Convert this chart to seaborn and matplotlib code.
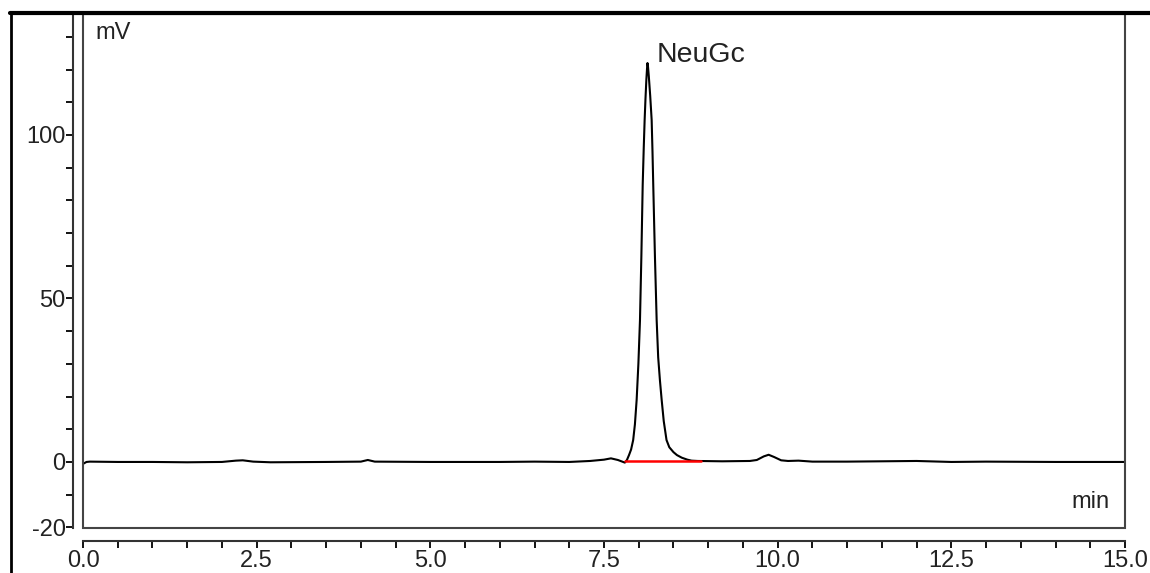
import numpy as np
import pandas as pd
import seaborn as sbn
import matplotlib
matplotlib.use('Agg')
import matplotlib.pyplot as plt
import matplotlib.lines as mline
import matplotlib.patches as mpatch
from matplotlib.ticker import MultipleLocator, FormatStrFormatter

# chromatogram trace (min, mV)
time_min = [0.0, 0.05, 0.1, 0.5, 1.0, 1.5, 2.0, 2.2, 2.3, 2.45, 2.7, 3.5,
            4.0, 4.1, 4.2, 5.0, 6.0, 6.5, 7.0, 7.3, 7.5, 7.6, 7.7, 7.8,
            7.83, 7.86, 7.89, 7.92, 7.945, 7.97, 7.995, 8.018, 8.038,
            8.057, 8.072, 8.085, 8.097, 8.11, 8.12, 8.126, 8.133, 8.145,
            8.165, 8.186, 8.198, 8.209, 8.233, 8.258, 8.28, 8.305, 8.33,
            8.36, 8.40, 8.44, 8.50, 8.55, 8.62, 8.70, 8.76, 8.85,
            9.2, 9.6, 9.7, 9.8, 9.87, 9.95, 10.05, 10.15, 10.3, 10.5,
            11.0, 12.0, 12.5, 13.0, 14.0, 15.0]
signal_mv = [-0.6, 0.0, 0.1, 0.0, 0.0, -0.1, 0.0, 0.4, 0.5, 0.1, -0.1, 0.0,
             0.1, 0.6, 0.1, 0.0, 0.0, 0.1, 0.0, 0.3, 0.7, 1.1, 0.6, -0.2,
             0.6, 2.1, 3.8, 6.7, 11.5, 19.0, 30.0, 43.4, 63.0,
             84.7, 96.0, 104.6, 111.0, 117.0, 120.5, 122.0, 121.0, 118.0,
             112.0, 104.6, 95.0, 84.7, 63.0, 43.4, 32.0, 25.0, 19.0,
             12.5, 6.7, 4.5, 3.0, 2.1, 1.3, 0.7, 0.4, 0.3,
             0.2, 0.3, 0.6, 1.7, 2.2, 1.5, 0.5, 0.3, 0.4, 0.1,
             0.1, 0.3, 0.0, 0.1, 0.0, 0.0]

# integration baseline of the peak
base_t = [7.8, 8.9]
base_mv = [0.3, 0.3]

peak_name = 'NeuGc'
peak_t = 8.126
peak_h = 122.0

x_ticks = [0.0, 2.5, 5.0, 7.5, 10.0, 12.5, 15.0]
y_ticks = [-20, 0, 50, 100]

sbn.set_style('ticks')
plt.rcParams['font.family'] = ['Liberation Sans', 'DejaVu Sans']
plt.rcParams['axes.unicode_minus'] = False

W, H = 1150, 573
fig = plt.figure(figsize=(W / 100, H / 100), dpi=100)
l, r, t, b = 83, 1125, 14, 528
ax = fig.add_axes([l / W, 1 - b / H, (r - l) / W, (b - t) / H])

df = pd.DataFrame({'t': time_min, 'mV': signal_mv})
sbn.lineplot(data=df, x='t', y='mV', sort=False, estimator=None,
             color='black', lw=1.5, ax=ax)
dfb = pd.DataFrame({'t': base_t, 'mV': base_mv})
sbn.lineplot(data=dfb, x='t', y='mV', sort=False, estimator=None,
             color='#ff0000', lw=1.8, ax=ax)

ax.set_xlim(0, 15)
ax.set_ylim(-20.2, 137)
ax.set_xlabel('')
ax.set_ylabel('')

txtcol = '#222222'
ax.set_xticks(x_ticks)
ax.xaxis.set_minor_locator(MultipleLocator(0.5))
ax.xaxis.set_major_formatter(FormatStrFormatter('%.1f'))
ax.set_yticks(y_ticks)
ax.yaxis.set_minor_locator(MultipleLocator(10))
ax.tick_params(axis='both', which='both', direction='out', length=5,
               width=1.3, colors='black', labelcolor=txtcol, labelsize=17)
ax.tick_params(axis='x', pad=2)
ax.tick_params(axis='y', pad=0.5)

for s in ['top', 'right']:
    ax.spines[s].set_visible(False)
ax.spines['left'].set_position(('outward', 7))
ax.spines['bottom'].set_position(('outward', 9))
for s in ['left', 'bottom']:
    ax.spines[s].set_color('#333333')
    ax.spines[s].set_linewidth(1.5)

# plot box
ax.add_patch(mpatch.Rectangle((0, 0), 1, 1, transform=ax.transAxes, fill=False,
                              ec='#444444', lw=1.5, clip_on=False, zorder=5))

ax.text(0.012, 0.985, 'mV', transform=ax.transAxes, ha='left', va='top',
        fontsize=17, color=txtcol)
ax.text(0.985, 0.03, 'min', transform=ax.transAxes, ha='right', va='bottom',
        fontsize=17, color=txtcol)
ax.annotate(peak_name, (peak_t, peak_h), xytext=(6.5, 0.8), textcoords='offset points',
            ha='left', va='baseline', fontsize=20.5, color=txtcol)

# outer frame
fig.add_artist(mline.Line2D([10 / W, 1], [1 - 13 / H, 1 - 13 / H],
                            transform=fig.transFigure, color='black', lw=3))
fig.add_artist(mline.Line2D([11 / W, 11 / W], [0, 1 - 13 / H],
                            transform=fig.transFigure, color='black', lw=2))

fig.savefig('out.png', dpi=100)
